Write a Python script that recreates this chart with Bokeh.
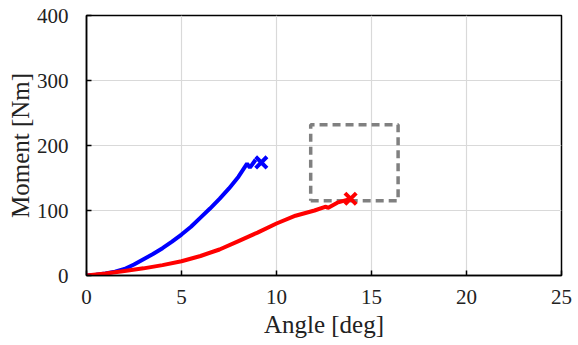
from bokeh.plotting import figure
from bokeh.embed import file_html
from bokeh.resources import INLINE
from bokeh.models import FixedTicker

# Moment-angle curves for two specimens
blue_angle = [0, 0.5, 1, 1.5, 2, 2.5, 3, 3.5, 4, 4.5, 5, 5.5, 6, 6.5, 7, 7.5, 8, 8.45, 8.6, 8.9]
blue_moment = [0, 1, 3, 6, 10, 17, 25, 33, 42, 52, 63, 75, 89, 103, 118, 134, 152, 172, 166, 178]
blue_fail = ([9.2], [174])

red_angle = [0, 1, 2, 3, 4, 5, 6, 7, 8, 9, 10, 11, 12, 12.6, 12.7, 13.2, 13.9]
red_moment = [0, 3, 7, 11, 16, 22, 30, 40, 53, 66, 80, 92, 100, 106, 104, 112, 118]
red_fail = ([13.9], [118])

# Dashed target region
box_x = [11.8, 16.4]
box_y = [115, 232]

FONT = "Liberation Serif"

p = figure(width=578, height=345, x_range=(0, 25), y_range=(0, 400),
           output_backend="svg", toolbar_location=None,
           min_border_left=86, min_border_right=17, min_border_top=15, min_border_bottom=70)

p.outline_line_color = "black"
p.outline_line_width = 1.5
p.background_fill_color = "white"
p.border_fill_color = "white"

for ax in (p.xaxis, p.yaxis):
    ax.axis_line_color = "black"
    ax.axis_line_width = 1.5
    ax.major_tick_in = 5
    ax.major_tick_out = 0
    ax.minor_tick_line_color = None
    ax.major_tick_line_color = "black"
    ax.major_tick_line_width = 1.5
    ax.major_label_text_font = FONT
    ax.major_label_text_font_size = "21px"
    ax.major_label_text_color = "#222222"
    ax.axis_label_text_font = FONT
    ax.axis_label_text_font_size = "25px"
    ax.axis_label_text_font_style = "normal"
    ax.axis_label_text_color = "#222222"

p.xaxis.ticker = FixedTicker(ticks=[0, 5, 10, 15, 20, 25])
p.yaxis.ticker = FixedTicker(ticks=[0, 100, 200, 300, 400])
p.xaxis.axis_label = "Angle [deg]"
p.yaxis.axis_label = "Moment [Nm]"
p.xaxis.major_label_standoff = 14
p.yaxis.major_label_standoff = 18
p.xaxis.axis_label_standoff = 4
p.yaxis.axis_label_standoff = 0

p.grid.grid_line_color = "#d9d9d9"
p.grid.grid_line_width = 1.2

p.line(x=[box_x[0], box_x[1], box_x[1], box_x[0], box_x[0]],
       y=[box_y[0], box_y[0], box_y[1], box_y[1], box_y[0]],
       line_color="#808080", line_width=3.5, line_dash="8 5")

p.line(blue_angle, blue_moment, line_color="#0000ff", line_width=4)
p.line(red_angle, red_moment, line_color="#ff0000", line_width=4)

p.scatter(x=blue_fail[0], y=blue_fail[1], marker="x", size=16,
          line_color="#0000ff", line_width=4)
p.scatter(x=red_fail[0], y=red_fail[1], marker="x", size=16,
          line_color="#ff0000", line_width=4)

open("out.html", "w").write(file_html(p, INLINE))
